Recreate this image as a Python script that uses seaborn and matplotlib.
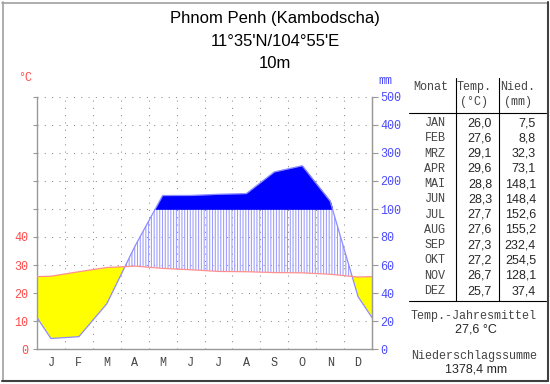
import numpy as np
import pandas as pd
import matplotlib
matplotlib.use("Agg")
import matplotlib.pyplot as plt
from matplotlib.lines import Line2D
import seaborn as sns

# ---------------- data ----------------
station = "Phnom Penh (Kambodscha)"
coords = "11°35'N/104°55'E"
elevation = "10m"
month_letters = ["J", "F", "M", "A", "M", "J", "J", "A", "S", "O", "N", "D"]
month_names = ["JAN", "FEB", "MRZ", "APR", "MAI", "JUN", "JUL", "AUG", "SEP", "OKT", "NOV", "DEZ"]
temp = [26.0, 27.6, 29.1, 29.6, 28.8, 28.3, 27.7, 27.6, 27.3, 27.2, 26.7, 25.7]
precip = [7.5, 8.8, 32.3, 73.1, 148.1, 148.4, 152.6, 155.2, 232.4, 254.5, 128.1, 37.4]
temp_labels = ["0", "10", "20", "30", "40"]
precip_labels = ["0", "20", "40", "60", "80", "100", "200", "300", "400", "500"]
mean_temp = "27,6 °C"
total_precip = "1378,4 mm"

# ---------------- style ----------------
sns.set_style("white")
plt.rcParams["font.family"] = ["Liberation Sans", "DejaVu Sans"]
plt.rcParams["hatch.linewidth"] = 0.75
plt.rcParams["hatch.color"] = "#9a9aff"

W, H = 550, 384
fig = plt.figure(figsize=(W / 100, H / 100), dpi=100)

def fx(x):
    return x / W

def fy(y):
    return 1 - y / H

ax_l, ax_r, ax_t, ax_b = 37, 372, 97, 349
ax = fig.add_axes([fx(ax_l), fy(ax_b), fx(ax_r) - fx(ax_l), fy(ax_t) - fy(ax_b)])

def p_equiv(p):
    p = np.asarray(p, dtype=float)
    return np.where(p <= 100, p / 2.0, 50 + (p - 100) / 10.0)

t = np.array(temp)
pe = p_equiv(precip)
x = np.concatenate([[0], np.arange(12) + 0.5, [12]])
t_edge = (t[0] + t[-1]) / 2
p_edge = float(p_equiv((precip[0] + precip[-1]) / 2))
tw = np.concatenate([[t_edge], t, [t_edge]])
pw = np.concatenate([[p_edge], pe, [p_edge]])
df = pd.DataFrame({"x": x, "temp": tw, "precip": pw})

# grid
for gx in range(1, 12):
    ax.axvline(gx, color="#8c8c8c", lw=0.75, ls=(0, (1, 6)), zorder=0)
for gy in range(10, 91, 10):
    ax.axhline(gy, color="#8c8c8c", lw=0.75, ls=(0, (1, 6)), zorder=0)

# arid (yellow)
ax.fill_between(x, pw, tw, where=tw >= pw, interpolate=True,
                facecolor="#ffff00", edgecolor="none", zorder=2)
# humid (hatched)
ax.fill_between(x, tw, pw, where=pw >= tw, interpolate=True,
                facecolor="none", edgecolor="#9a9aff", hatch="||||||",
                linewidth=0, zorder=2)
# perhumid (dark blue)
ax.fill_between(x, 50, pw, where=pw >= 50, interpolate=True,
                facecolor="#0000ff", edgecolor="#0000ff", linewidth=0.5, zorder=3)

sns.lineplot(data=df, x="x", y="precip", ax=ax, color="#8c8cff", lw=0.9, zorder=4)
sns.lineplot(data=df, x="x", y="temp", ax=ax, color="#ff9090", lw=0.9, zorder=5)

ax.set_xlim(0, 12)
ax.set_ylim(0, 90)
ax.set_xlabel("")
ax.set_ylabel("")
ax.spines["top"].set_visible(False)
for s in ["left", "bottom", "right"]:
    ax.spines[s].set_color("#999999")
    ax.spines[s].set_linewidth(1.0)

mono = ["Liberation Mono", "DejaVu Sans Mono"]
ax.set_xticks(range(13))
ax.set_xticklabels([])
ax.set_xticks(np.arange(12) + 0.5, minor=True)
ax.set_xticklabels(month_letters, minor=True, family=mono, fontsize=8.5, color="#444444")
ax.tick_params(axis="x", which="major", length=4, color="#999999", direction="out")
ax.tick_params(axis="x", which="minor", length=0, pad=6)

ax.set_yticks(range(0, 91, 10))
ax.set_yticklabels(temp_labels + [""] * 5, family=mono, fontsize=8.5, color="#ff4a4a")
ax.tick_params(axis="y", which="major", length=3, color="#999999", direction="out", pad=3, left=True)

ax2 = ax.twinx()
ax2.set_ylim(0, 90)
ax2.set_yticks(range(0, 91, 10))
ax2.set_yticklabels(precip_labels, family=mono, fontsize=8.5, color="#4a4aff")
ax2.tick_params(axis="y", length=4, color="#999999", direction="out", pad=2)
for s in ["top", "left", "bottom"]:
    ax2.spines[s].set_visible(False)
ax2.spines["right"].set_color("#999999")

fig.text(fx(25), fy(78), "°C", family=mono, fontsize=8.5, color="#ff4a4a", ha="center", va="center")
fig.text(fx(385), fy(81), "mm", family=mono, fontsize=8.5, color="#4a4aff", ha="center", va="center")

# titles
for txt, yy in [(station, 18), (coords, 41), (elevation, 64)]:
    fig.text(fx(275), fy(yy), txt, fontsize=12, ha="center", va="center", color="#000000")

# ---------------- table ----------------
def hline(x0, x1, y, color="#000000", lw=0.8):
    fig.add_artist(Line2D([fx(x0), fx(x1)], [fy(y), fy(y)], color=color, lw=lw))

def vline(xx, y0, y1, color="#000000", lw=0.8):
    fig.add_artist(Line2D([fx(xx), fx(xx)], [fy(y0), fy(y1)], color=color, lw=lw))

vline(456, 78, 301)
vline(499, 78, 301)
hline(409, 546, 113)
hline(409, 546, 301)

gray = "#444444"
fig.text(fx(413), fy(87), "Monat", family=mono, fontsize=8.5, color=gray, ha="left", va="center")
fig.text(fx(474), fy(87), "Temp.", family=mono, fontsize=8.5, color=gray, ha="center", va="center")
fig.text(fx(474), fy(102), "(°C)", family=mono, fontsize=8.5, color=gray, ha="center", va="center")
fig.text(fx(518), fy(87), "Nied.", family=mono, fontsize=8.5, color=gray, ha="center", va="center")
fig.text(fx(518), fy(102), "(mm)", family=mono, fontsize=8.5, color=gray, ha="center", va="center")

row0, dy = 123, (291 - 123) / 11
for i, (mn, tv, pv) in enumerate(zip(month_names, temp, precip)):
    yy = row0 + i * dy
    fig.text(fx(435), fy(yy), mn, family=mono, fontsize=8.5, color=gray, ha="center", va="center")
    fig.text(fx(492), fy(yy), f"{tv:.1f}".replace(".", ","), fontsize=9, ha="right", va="center")
    fig.text(fx(536), fy(yy), f"{pv:.1f}".replace(".", ","), fontsize=9, ha="right", va="center")

fig.text(fx(474), fy(316), "Temp.-Jahresmittel", family=mono, fontsize=8.5, color=gray, ha="center", va="center")
fig.text(fx(476), fy(330), mean_temp, fontsize=9, ha="center", va="center")
fig.text(fx(474), fy(356), "Niederschlagssumme", family=mono, fontsize=8.5, color=gray, ha="center", va="center")
fig.text(fx(476), fy(370), total_precip, fontsize=9, ha="center", va="center")

# frame
hline(2, 548, 2.5, color="#a0a0a0", lw=1.2)
vline(2.5, 2, 381, color="#a0a0a0", lw=1.2)
hline(2, 548, 381, color="#404040", lw=1.5)
vline(547.5, 2, 381, color="#404040", lw=1.5)

fig.savefig("out.png", dpi=100, facecolor="white")
